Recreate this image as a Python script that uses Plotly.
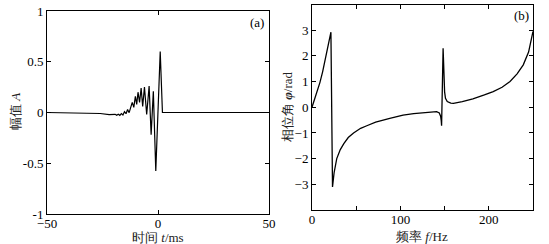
import plotly.graph_objects as go

# Panel (a): time-domain wavelet (vertices)
t_ms = [-50, -30, -26, -22, -20, -19.3, -18.6, -17.9, -17.2, -16.5, -15.8, -15.1,
        -14.4, -13.7, -13.0, -12.3, -11.6, -10.9, -10.2, -9.6, -9.0, -8.3, -7.6,
        -6.9, -6.1, -5.1, -4.0, -3.1, -2.1, -1.0, 0.0, 1.0, 2.0, 50]
amp = [0, -0.003, -0.01, -0.02, -0.022, -0.018, -0.028, -0.018, -0.028, -0.01, -0.024,
       0.008, -0.012, 0.03, -0.002, 0.06, 0.10, 0.05, 0.16, 0.08, 0.20, 0.10, 0.24,
       0.06, 0.25, -0.02, 0.26, -0.22, 0.21, -0.575, 0.01, 0.60, 0.0, 0]

# Panel (b): phase spectrum
freq_hz = [0, 3, 6, 9, 12, 15, 18, 21.4, 23.2, 25, 28, 32, 36, 41, 47, 55, 62, 72, 88,
           103, 115, 125, 135, 141, 144, 145.5, 146.2, 146.6, 148.3, 149.0, 150.0, 151.0,
           153, 157, 160, 170, 182, 195, 205, 215, 224, 232, 239, 245, 250]
phase_rad = [0, 0.3, 0.62, 0.97, 1.38, 1.87, 2.37, 2.92, -3.1, -2.55, -2.0, -1.65, -1.42,
             -1.18, -1.0, -0.82, -0.72, -0.58, -0.43, -0.31, -0.25, -0.21, -0.18, -0.17,
             -0.22, -0.35, -0.52, -0.72, 2.3, 1.3, 0.6, 0.35, 0.22, 0.16, 0.15, 0.22,
             0.33, 0.48, 0.61, 0.78, 1.0, 1.3, 1.65, 2.15, 2.95]

a_xticks = [-50, 0, 50]
a_yticks = [-1, -0.5, 0, 0.5, 1]
b_xticks = [0, 50, 100, 150, 200, 250]
b_xticklabels = ["0", "", "100", "", "200", ""]
b_yticks = [-3, -2, -1, 0, 1, 2, 3]

W, H = 549, 244
FONT = "Liberation Serif, Times New Roman, DejaVu Serif, serif"

fig = go.Figure()
fig.add_trace(go.Scatter(x=t_ms, y=amp, mode="lines", line=dict(color="black", width=1.2),
                         xaxis="x", yaxis="y", showlegend=False))
fig.add_trace(go.Scatter(x=freq_hz, y=phase_rad, mode="lines", line=dict(color="black", width=1.3),
                         xaxis="x2", yaxis="y2", showlegend=False))

ax_common = dict(showline=True, linecolor="black", linewidth=1, mirror="ticks",
                 ticks="inside", ticklen=4, tickcolor="black", showgrid=False, zeroline=False,
                 automargin=False,
                 tickfont=dict(family=FONT, size=13, color="black"))

fig.update_layout(
    template="none",
    width=W, height=H, margin=dict(l=0, r=0, t=0, b=0, pad=0),
    paper_bgcolor="white", plot_bgcolor="white",
    font=dict(family=FONT),
    xaxis=dict(domain=[47 / W, 269 / W], range=[-50, 50], tickvals=a_xticks,
               anchor="y", ticklabelstandoff=-3, **ax_common),
    yaxis=dict(domain=[(H - 214) / H, (H - 11) / H], range=[-1, 1], tickvals=a_yticks,
               ticktext=["-1", "-0.5", "0", "0.5", "1"], anchor="x", **ax_common),
    xaxis2=dict(domain=[312 / W, 533 / W], range=[0, 250], tickvals=b_xticks,
                ticktext=b_xticklabels, anchor="y2", ticklabelstandoff=-3, **ax_common),
    yaxis2=dict(domain=[(H - 210) / H, (H - 4.5) / H], range=[-4, 4], tickvals=b_yticks,
                anchor="x2", **ax_common),
)

def ann(text, x, y, angle=0, size=14, color="#222"):
    fig.add_annotation(text=text, x=x / W, y=1 - y / H, xref="paper", yref="paper",
                       showarrow=False, textangle=angle, xanchor="center", yanchor="middle",
                       font=dict(family=FONT, size=size, color=color))

ann("时间 <i>t</i>/ms", 158, 237, size=13)
ann("幅值 <i>A</i>", 15, 112, angle=-90, size=13)
ann("频率 <i>f</i>/Hz", 422, 236, size=13)
ann("相位角 <b><i>φ</i></b>/rad", 287, 107, angle=-90, size=13)
ann("(a)", 257, 23, color="black", size=13)
ann("(b)", 521, 16, color="black", size=13)

fig.write_html("out.html", config={"displayModeBar": False},
               post_script="document.body.style.margin='0';document.body.style.overflow='hidden';")
